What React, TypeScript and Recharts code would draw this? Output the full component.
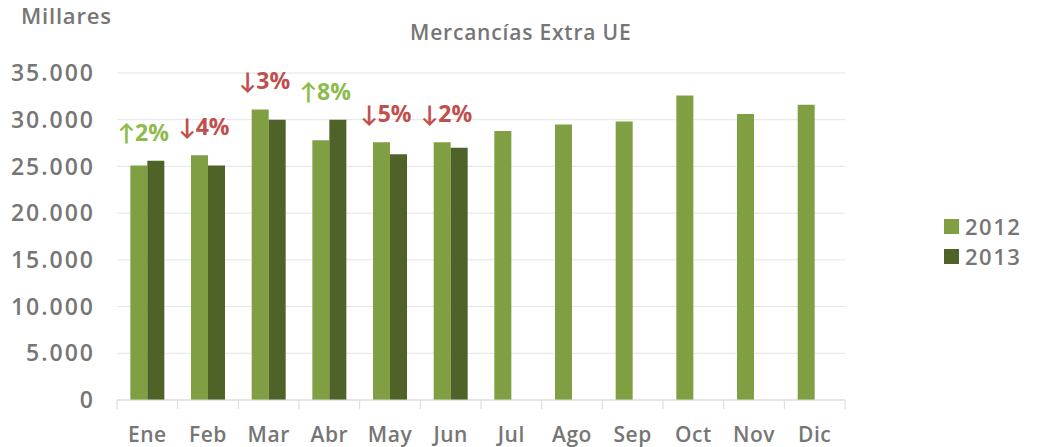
import { BarChart, Bar, XAxis, YAxis, CartesianGrid, Legend, LabelList } from 'recharts'

const months = ['Ene', 'Feb', 'Mar', 'Abr', 'May', 'Jun', 'Jul', 'Ago', 'Sep', 'Oct', 'Nov', 'Dic']
const values2012 = [25100, 26200, 31100, 27800, 27600, 27600, 28800, 29500, 29800, 32600, 30600, 31600]
const values2013 = [25600, 25100, 30000, 30000, 26300, 27000, null, null, null, null, null, null]
const changeLabels = ['↑2%', '↓4%', '↓3%', '↑8%', '↓5%', '↓2%']
const yTicks = [0, 5000, 10000, 15000, 20000, 25000, 30000, 35000]

const chartData = months.map((m, i) => ({
    name: m,
    y2012: values2012[i],
    y2013: values2013[i],
}))

const FONT = '"Open Sans", Lato, sans-serif'
const GREY = '#767676'
const COLOR_2012 = '#7F9F42'
const COLOR_2013 = '#4F6228'

const fmt = (v: number) => String(v).replace(/\B(?=(\d{3})+(?!\d))/g, '.')

const MonthTick = (props: any) => {
    const { x, y, payload, index } = props
    const half = payload?.offset ?? 30
    return (
        <g>
            <line x1={x - half} x2={x - half} y1={y} y2={y + 9} stroke='#d9d9d9' />
            {index === months.length - 1 && (
                <line x1={x + half} x2={x + half} y1={y} y2={y + 9} stroke='#d9d9d9' />
            )}
            <text x={x} y={y + 42} textAnchor='middle' fill={GREY} fontSize={21} fontWeight={600} fontFamily={FONT} letterSpacing={0.5}>
                {payload.value}
            </text>
        </g>
    )
}

const ChangeLabel = (props: any) => {
    const { x, y, height, index } = props
    const label = changeLabels[index]
    if (!label || y == null) return null
    const base = y + height
    const v12 = values2012[index]
    const v13 = values2013[index] as number
    const top12 = base - (height * v12) / v13
    const top = Math.min(y, top12)
    const up = label.startsWith('↑')
    return (
        <text x={x - 4} y={top - 20} textAnchor='middle' fill={up ? '#8DBB4C' : '#C0504D'} fontSize={23} fontWeight={700} fontFamily={FONT}>
            {label}
        </text>
    )
}

const LegendBox = () => (
    <div style={{ fontFamily: FONT, fontSize: 22, fontWeight: 600, color: GREY, letterSpacing: 1.5 }}>
        {[['2012', COLOR_2012], ['2013', COLOR_2013]].map(([t, c]) => (
            <div key={t} style={{ display: 'flex', alignItems: 'center', height: 30 }}>
                <span style={{ width: 15, height: 15, background: c, marginRight: 6, display: 'inline-block' }} />
                {t}
            </div>
        ))}
    </div>
)

export default function App() {
    return (
        <div style={{ position: 'absolute', left: 0, top: 0, width: 1054, height: 447, background: '#fff' }}>
            <div style={{ position: 'absolute', left: 21, top: 0, fontFamily: FONT, fontSize: 22, fontWeight: 600, color: GREY, letterSpacing: 0.8 }}>
                Millares
            </div>
            <div style={{ position: 'absolute', left: 410, top: 18, fontFamily: FONT, fontSize: 21, fontWeight: 600, color: GREY, letterSpacing: 0.8 }}>
                Mercancías Extra UE
            </div>
            <BarChart
                width={1054}
                height={447}
                data={chartData}
                margin={{ top: 73, right: 109, left: 0, bottom: 0 }}
                barCategoryGap='22%'
                barGap={0}
            >
                <CartesianGrid vertical={false} stroke='#e4e4e4' />
                <XAxis
                    dataKey='name'
                    height={47}
                    stroke='#d9d9d9'
                    tickLine={false}
                    tickSize={0}
                    tickMargin={0}
                    tick={<MonthTick />}
                    interval={0}
                />
                <YAxis
                    width={117}
                    domain={[0, 35000]}
                    ticks={yTicks}
                    axisLine={false}
                    tickLine={false}
                    tickSize={0}
                    tickMargin={22}
                    tickFormatter={fmt}
                    tick={{ fill: GREY, fontSize: 23, fontWeight: 600, fontFamily: FONT, letterSpacing: 2 }}
                />
                <Legend
                    layout='horizontal'
                    verticalAlign='middle'
                    align='right'
                    wrapperStyle={{ left: 944, top: 211, width: 100 }}
                    content={<LegendBox />}
                />
                <Bar dataKey='y2012' name='2012' fill={COLOR_2012} isAnimationActive={false} />
                <Bar dataKey='y2013' name='2013' fill={COLOR_2013} isAnimationActive={false}>
                    <LabelList dataKey='y2013' content={<ChangeLabel />} />
                </Bar>
            </BarChart>
        </div>
    )
}
